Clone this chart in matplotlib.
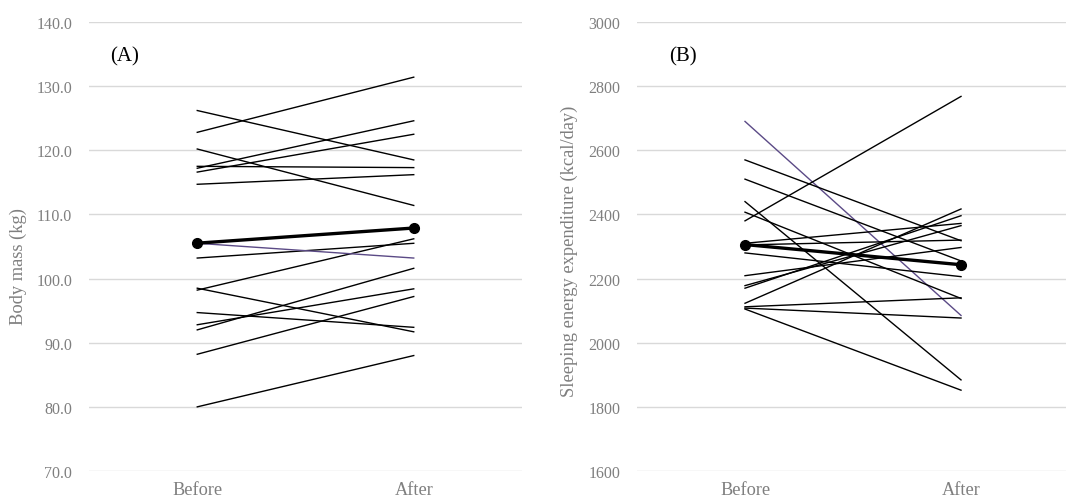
import numpy as np
import matplotlib
matplotlib.use("Agg")
import matplotlib.pyplot as plt

# ------------------------------------------------------------------
# data (one entry per participant)
# ------------------------------------------------------------------
groups = ["Before", "After"]

mass_before = [80.0, 88.2, 92.0, 92.8, 94.7, 98.2, 98.5, 103.2,
               105.5, 114.7, 116.6, 117.2, 117.5, 120.2, 122.8, 126.2]
mass_after = [88.0, 97.2, 101.6, 98.4, 92.4, 106.2, 91.7, 105.5,
              103.2, 116.2, 122.5, 124.6, 117.3, 111.4, 131.4, 118.5]
mass_purple = 8  # index of the highlighted participant

see_before = [2690, 2570, 2510, 2440, 2407, 2380, 2310, 2305,
              2280, 2209, 2178, 2170, 2123, 2112, 2108, 2105]
see_after = [2085, 2318, 2255, 1884, 2138, 2768, 2372, 2320,
             2206, 2297, 2365, 2396, 2417, 2140, 2077, 1852]
see_purple = 0

mass_ticks = np.arange(70, 141, 10)
see_ticks = np.arange(1600, 3001, 200)

plt.rcParams['font.family'] = ['Liberation Serif', 'DejaVu Serif']

GREY = '#7f7f7f'
PURPLE = '#5b4a86'


def panel(ax, before, after, hl, ticks, fmt, ylabel, tag, xmax, tag_x, label_x, label_y):
    x = [0, 1]
    for i, (b, a) in enumerate(zip(before, after)):
        col = PURPLE if i == hl else 'black'
        ax.plot(x, [b, a], color=col, lw=1.0, zorder=2)
    ax.plot(x, [np.mean(before), np.mean(after)], color='black', lw=2.4,
            marker='o', ms=7, zorder=3)

    ax.set_xlim(-0.5, xmax)
    ax.set_ylim(ticks[0], ticks[-1])
    ax.set_yticks(ticks)
    ax.set_yticklabels([fmt.format(t) for t in ticks])
    ax.set_xticks(x)
    ax.set_xticklabels(groups)
    ax.grid(axis='y', color='#d9d9d9', lw=1.0)
    ax.set_axisbelow(True)
    for s in ax.spines.values():
        s.set_visible(False)
    ax.tick_params(axis='both', length=0, colors=GREY)
    ax.tick_params(axis='y', pad=12, labelsize=11.5)
    ax.tick_params(axis='x', pad=7, labelsize=13.2)
    ax.set_ylabel(ylabel, fontsize=13.3, color=GREY)
    ax.yaxis.set_label_coords(label_x, label_y)
    ax.text(tag_x, 0.924, tag, transform=ax.transAxes, fontsize=15,
            color='black', va='center', ha='left')


fig = plt.figure(figsize=(10.66, 5.02), dpi=100)
ax1 = fig.add_axes([89 / 1066, 30 / 502, 433 / 1066, 449 / 502])
ax2 = fig.add_axes([637 / 1066, 30 / 502, 429 / 1066, 449 / 502])

panel(ax1, mass_before, mass_after, mass_purple, mass_ticks, '{:.1f}',
      'Body mass (kg)', '(A)', 1.5, 0.048, -0.143, 0.457)
panel(ax2, see_before, see_after, see_purple, see_ticks, '{:d}',
      'Sleeping energy expenditure (kcal/day)', '(B)', 1.486, 0.075, -0.138, 0.491)

fig.savefig('out.png', dpi=100)
